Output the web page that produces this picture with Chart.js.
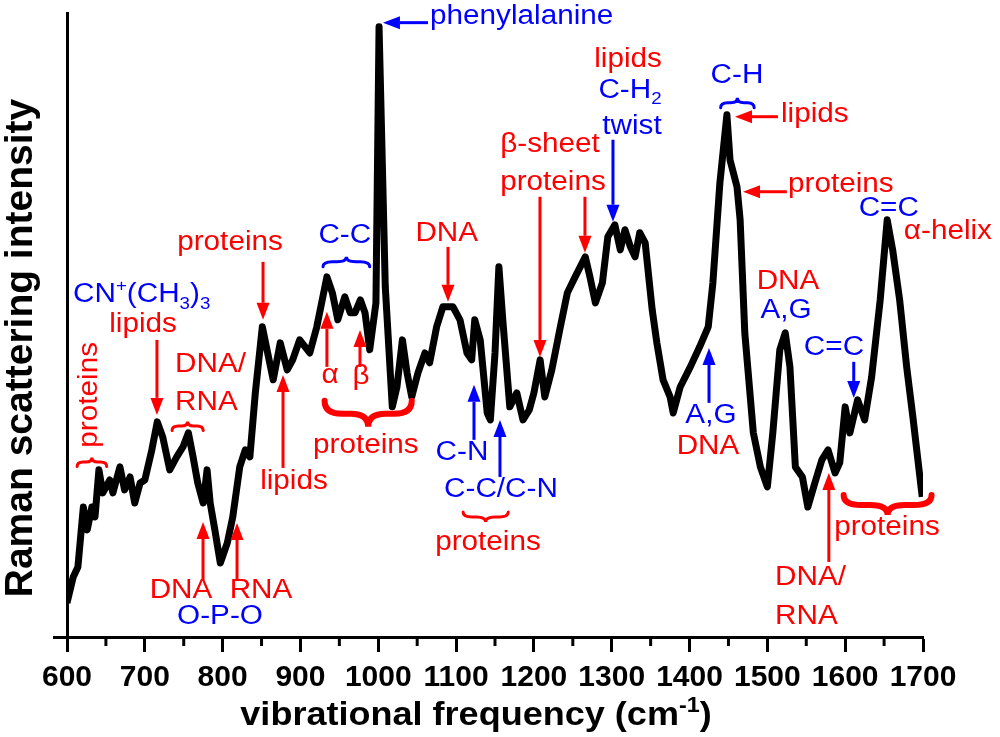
<!DOCTYPE html>
<html>
<head>
<meta charset="utf-8">
<script src="https://cdn.jsdelivr.net/npm/chart.js@4.4.1/dist/chart.umd.min.js"></script>
<style>
  html, body { margin: 0; padding: 0; background: #fff; }
  #wrap { width: 1000px; height: 737px; }
</style>
</head>
<body>
<div id="wrap"><canvas id="raman-chart"></canvas></div>
<script>
// --- Spectrum data ---
const waveNumbers = [
  600, 608, 614, 621, 626, 632, 636, 641, 646, 655,
  659, 668, 674, 681, 687, 694, 700, 709, 716, 723,
  732, 741, 749, 756, 762, 768, 775, 780, 784, 790,
  797, 806, 813, 822, 829, 835, 842, 851, 857, 865,
  874, 883, 890, 899, 912, 921, 934, 941, 948, 957,
  964, 970, 977, 983, 989, 997, 1001, 1009, 1018, 1024,
  1031, 1037, 1043, 1051, 1060, 1066, 1075, 1083, 1096, 1105,
  1114, 1120, 1124, 1131, 1140, 1144, 1150, 1155, 1160, 1169,
  1178, 1186, 1194, 1200, 1208, 1214, 1223, 1234, 1243, 1253,
  1266, 1272, 1279, 1288, 1295, 1304, 1311, 1317, 1324, 1330,
  1336, 1343, 1352, 1358, 1366, 1375, 1379, 1388, 1401, 1413,
  1424, 1430, 1439, 1448, 1452, 1461, 1465, 1471, 1482, 1491,
  1500, 1507, 1516, 1523, 1529, 1536, 1545, 1552, 1561, 1570,
  1578, 1587, 1593, 1600, 1606, 1616, 1625, 1634, 1645, 1654,
  1661, 1670, 1679, 1687, 1699
];
const intensity = [
  229, 404, 471, 875, 721, 875, 808, 1125, 970, 1057,
  970, 1145, 990, 1077, 902, 1037, 1057, 1259, 1448, 1347,
  1125, 1212, 1279, 1374, 1212, 1037, 902, 1125, 902, 721,
  498, 633, 808, 1145, 1259, 1212, 1643, 2088, 1933, 1731,
  1980, 1798, 1865, 2000, 1912, 2088, 2424, 2317, 2135, 2290,
  2182, 2182, 2269, 2182, 1933, 2249, 4108, 2357, 1549, 1683,
  2000, 1778, 1616, 1778, 1912, 1845, 2088, 2222, 2222, 2135,
  1912, 1865, 2135, 2000, 1508, 1461, 1912, 2492, 2135, 1549,
  1643, 1461, 1528, 1643, 1865, 1616, 1798, 2088, 2317, 2424,
  2559, 2424, 2249, 2384, 2694, 2774, 2606, 2741, 2626, 2559,
  2721, 2653, 2202, 1980, 1731, 1616, 1508, 1683, 1818, 1953,
  2088, 2384, 3057, 3515, 3212, 3030, 2808, 2047, 1374, 1145,
  1010, 1374, 1933, 2047, 1818, 1145, 1077, 875, 1037, 1192,
  1259, 1104, 1172, 1549, 1374, 1596, 1461, 1751, 2269, 2808,
  2606, 2269, 1818, 1481, 943
];

// Axis range / ticks
const xMin = 600, xMax = 1700, xMajorStep = 100, xMinorStep = 50;
const yMin = 0, yMax = 4200, yStep = 500;

const RED = '#ff0000';
const BLUE = '#0000ff';

// --- Band assignments: [text parts, x (cm-1), y (intensity), colour, align, rotated] ---
const bandLabels = [
  [[['phenylalanine']], 1066.5, 4175, BLUE, 'left'],
  [[['lipids']], 1321, 3885, RED],
  [[['C-H'], ['2', 'sub']], 1323.5, 3677, BLUE],
  [[['twist']], 1326, 3434, BLUE],
  [[['C-H']], 1461, 3778, BLUE],
  [[['lipids']], 1517.5, 3515, RED, 'left'],
  [[['proteins']], 1526.5, 3044, RED, 'left'],
  [[['C=C']], 1656, 2882, BLUE],
  [[['\u03b1-helix']], 1732, 2727, RED],
  [[['DNA']], 1526.5, 2391, RED],
  [[['A,G']], 1524, 2195, BLUE],
  [[['C=C']], 1585.6, 1946, BLUE],
  [[['proteins']], 1653.7, 734, RED],
  [[['DNA/']], 1509.8, 397, RED, 'left'],
  [[['RNA']], 1509.8, 135, RED, 'left'],
  [[['A,G']], 1427.5, 1488, BLUE],
  [[['DNA']], 1423.7, 1279, RED],
  [[['\u03b2-sheet']], 1220.7, 3313, RED],
  [[['proteins']], 1224.5, 3057, RED],
  [[['DNA']], 1088, 2714, RED],
  [[['C-C']], 957, 2700, BLUE],
  [[['proteins']], 809.5, 2653, RED],
  [[['CN'], ['+', 'sup'], ['(CH'], ['3', 'sub'], [')'], ['3', 'sub']], 607.7, 2303, BLUE, 'left'],
  [[['lipids']], 697.7, 2101, RED],
  [[['proteins']], 629.6, 1630, RED, 'center', true],
  [[['DNA/']], 738.8, 1832, RED, 'left'],
  [[['RNA']], 738.8, 1576, RED, 'left'],
  [[['\u03b1']], 938, 1758, RED],
  [[['\u03b2']], 977.8, 1751, RED],
  [[['proteins']], 984, 1286, RED],
  [[['lipids']], 891.7, 1044, RED],
  [[['DNA']], 746.5, 310, RED],
  [[['RNA']], 849.3, 310, RED],
  [[['O-P-O']], 796.6, 135, BLUE],
  [[['C-N']], 1107.6, 1239, BLUE],
  [[['C-C/C-N']], 1157.7, 990, BLUE],
  [[['proteins']], 1141, 633, RED]
];

// Arrows: [x from, y from, x tip, y tip, colour]
const bandArrows = [
  [1063.9, 4135, 1006, 4135, BLUE],
  [1301.6, 3347, 1301.6, 2795, BLUE],
  [1513.6, 3502, 1458.4, 3502, RED],
  [1525, 2997, 1468.7, 2997, RED],
  [1611, 1852, 1611, 1609, BLUE],
  [1579, 505, 1579, 1104, RED],
  [1425, 1576, 1425, 1946, BLUE],
  [1207.8, 2963, 1207.8, 1885, RED],
  [1265.6, 2963, 1265.6, 2586, RED],
  [1089.6, 2626, 1089.6, 2256, RED],
  [851.9, 2525, 851.9, 2135, RED],
  [715.6, 2000, 715.6, 1495, RED],
  [934, 1818, 934, 2189, RED],
  [976.5, 1818, 976.5, 2067, RED],
  [877.6, 1138, 877.6, 1764, RED],
  [774.8, 384, 774.8, 774, RED],
  [818.5, 384, 818.5, 768, RED],
  [1123, 1327, 1123, 1697, BLUE],
  [1156.4, 1077, 1156.4, 1461, BLUE]
];

// Braces: [x start, x end, y, height px, dir (-1 tip up, 1 tip down), colour, width]
const bandBraces = [
  [929, 989, 2525, 10, -1, BLUE, 3],
  [1440, 1483, 3596, 10, -1, BLUE, 3],
  [735, 775, 1421, 9, -1, RED, 3],
  [613, 651, 1178, 9, -1, RED, 3],
  [931, 1043, 1502, 26, 1, RED, 6],
  [1598, 1711, 889, 20, 1, RED, 6],
  [1109, 1167, 808, 10, 1, RED, 3]
];

const FONT = '"Liberation Sans", Arial, sans-serif';

function partFont(kind) {
  return (kind === 'sub' || kind === 'sup') ? `17px ${FONT}` : `27px ${FONT}`;
}

function drawRichText(ctx, parts, x, y, color, align, rotated) {
  const sx = 1.1;
  ctx.save();
  ctx.fillStyle = color;
  ctx.textBaseline = 'middle';
  ctx.textAlign = 'left';
  let w = 0;
  parts.forEach(p => { ctx.font = partFont(p[1]); w += ctx.measureText(p[0]).width; });
  ctx.translate(x, y);
  if (rotated) ctx.rotate(-Math.PI / 2);
  ctx.scale(sx, 1);
  let cx = align === 'left' ? 0 : -w / 2;
  parts.forEach(p => {
    ctx.font = partFont(p[1]);
    const dy = p[1] === 'sub' ? 9 : (p[1] === 'sup' ? -9 : 0);
    ctx.fillText(p[0], cx, dy);
    cx += ctx.measureText(p[0]).width;
  });
  ctx.restore();
}

function drawArrow(ctx, x1, y1, x2, y2, color) {
  const ang = Math.atan2(y2 - y1, x2 - x1);
  const headLen = 17, headHalf = 6.5;
  const bx = x2 - headLen * Math.cos(ang), by = y2 - headLen * Math.sin(ang);
  ctx.save();
  ctx.strokeStyle = color;
  ctx.fillStyle = color;
  ctx.lineWidth = 3;
  ctx.beginPath();
  ctx.moveTo(x1, y1);
  ctx.lineTo(bx, by);
  ctx.stroke();
  ctx.beginPath();
  ctx.moveTo(x2, y2);
  ctx.lineTo(bx + headHalf * Math.sin(ang), by - headHalf * Math.cos(ang));
  ctx.lineTo(bx - headHalf * Math.sin(ang), by + headHalf * Math.cos(ang));
  ctx.closePath();
  ctx.fill();
  ctx.restore();
}

function drawBrace(ctx, xa, xb, y, h, dir, color, lw) {
  const xm = (xa + xb) / 2;
  const q = Math.min(h, (xb - xa) / 5);
  const yEnd = y - dir * h / 2;
  const yTip = y + dir * h / 2;
  ctx.save();
  ctx.strokeStyle = color;
  ctx.lineWidth = lw;
  ctx.lineCap = 'round';
  ctx.beginPath();
  ctx.moveTo(xa, yEnd);
  ctx.quadraticCurveTo(xa, y, xa + q, y);
  ctx.lineTo(xm - q, y);
  ctx.quadraticCurveTo(xm, y, xm, yTip);
  ctx.quadraticCurveTo(xm, y, xm + q, y);
  ctx.lineTo(xb - q, y);
  ctx.quadraticCurveTo(xb, y, xb, yEnd);
  ctx.stroke();
  ctx.restore();
}

// Minor x ticks, axis titles (x has a superscript) and the band annotations
const annotationPlugin = {
  id: 'ramanAnnotations',
  afterDraw(chart) {
    const ctx = chart.ctx;
    const xs = chart.scales.x, ys = chart.scales.y;
    const area = chart.chartArea;

    // minor ticks
    ctx.save();
    ctx.strokeStyle = '#000';
    ctx.lineWidth = 3;
    for (let v = xMin + xMinorStep; v < xMax; v += xMajorStep) {
      const px = xs.getPixelForValue(v);
      ctx.beginPath();
      ctx.moveTo(px, area.bottom);
      ctx.lineTo(px, area.bottom + 9);
      ctx.stroke();
    }
    ctx.restore();

    // y title
    ctx.save();
    ctx.fillStyle = '#000';
    ctx.font = `bold 39px ${FONT}`;
    ctx.textAlign = 'center';
    ctx.textBaseline = 'alphabetic';
    ctx.translate(32, 348);
    ctx.rotate(-Math.PI / 2);
    ctx.fillText('Raman scattering intensity', 0, 0);
    ctx.restore();

    // x title
    ctx.save();
    ctx.fillStyle = '#000';
    ctx.textBaseline = 'alphabetic';
    ctx.textAlign = 'left';
    const mainFont = `bold 34px ${FONT}`, supFont = `bold 22px ${FONT}`;
    const t1 = 'vibrational frequency (cm', t2 = '-1', t3 = ')';
    ctx.font = mainFont;
    const w1 = ctx.measureText(t1).width, w3 = ctx.measureText(t3).width;
    ctx.font = supFont;
    const w2 = ctx.measureText(t2).width;
    const sx = 1.06;
    const total = (w1 + w2 + w3) * sx;
    const cx = (area.left + area.right) / 2 - 19;
    ctx.translate(cx - total / 2, 725);
    ctx.scale(sx, 1);
    ctx.font = mainFont;
    ctx.fillText(t1, 0, 0);
    ctx.font = supFont;
    ctx.fillText(t2, w1, -13);
    ctx.font = mainFont;
    ctx.fillText(t3, w1 + w2, 0);
    ctx.restore();

    bandBraces.forEach(b => {
      drawBrace(ctx, xs.getPixelForValue(b[0]), xs.getPixelForValue(b[1]),
        ys.getPixelForValue(b[2]), b[3], b[4], b[5], b[6]);
    });
    bandArrows.forEach(a => {
      drawArrow(ctx, xs.getPixelForValue(a[0]), ys.getPixelForValue(a[1]),
        xs.getPixelForValue(a[2]), ys.getPixelForValue(a[3]), a[4]);
    });
    bandLabels.forEach(l => {
      drawRichText(ctx, l[0], xs.getPixelForValue(l[1]), ys.getPixelForValue(l[2]),
        l[3], l[4] || 'center', l[5]);
    });
  }
};

const spectrumPoints = waveNumbers.map((w, i) => ({ x: w, y: intensity[i] }));

const canvas = document.getElementById('raman-chart');
new Chart(canvas, {
  type: 'line',
  data: {
    datasets: [{
      label: 'Raman spectrum',
      data: spectrumPoints,
      borderColor: '#000',
      borderWidth: 7,
      borderJoinStyle: 'round',
      pointRadius: 0,
      tension: 0,
      fill: false
    }]
  },
  options: {
    responsive: true,
    maintainAspectRatio: false,
    animation: false,
    layout: { padding: { top: 13, right: 77, left: 0, bottom: 0 } },
    plugins: {
      legend: { display: false },
      tooltip: { enabled: false }
    },
    scales: {
      x: {
        type: 'linear',
        min: xMin,
        max: xMax,
        afterFit: s => { s.height = 100; },
        border: { color: '#000', width: 3 },
        grid: {
          drawOnChartArea: false,
          drawTicks: true,
          tickLength: 15,
          tickWidth: 3,
          tickColor: c => (c.tick && c.tick.value % xMajorStep === 0) ? '#000' : 'rgba(0,0,0,0)'
        },
        ticks: {
          stepSize: xMinorStep,
          autoSkip: false,
          maxRotation: 0,
          minRotation: 0,
          padding: 8,
          color: '#000',
          font: { family: FONT, size: 30, weight: 'bold' },
          callback: v => (v % xMajorStep === 0 ? String(v) : '')
        }
      },
      y: {
        min: yMin,
        max: yMax,
        afterFit: s => { s.width = 67; },
        afterBuildTicks: s => { s.ticks = s.ticks.filter(t => t.value % yStep === 0); },
        border: { color: '#000', width: 3 },
        grid: {
          drawOnChartArea: false,
          drawTicks: true,
          tickLength: 14,
          tickWidth: 3,
          tickColor: '#000'
        },
        ticks: { stepSize: yStep, display: false }
      }
    }
  },
  plugins: [annotationPlugin]
});
</script>
</body>
</html>
